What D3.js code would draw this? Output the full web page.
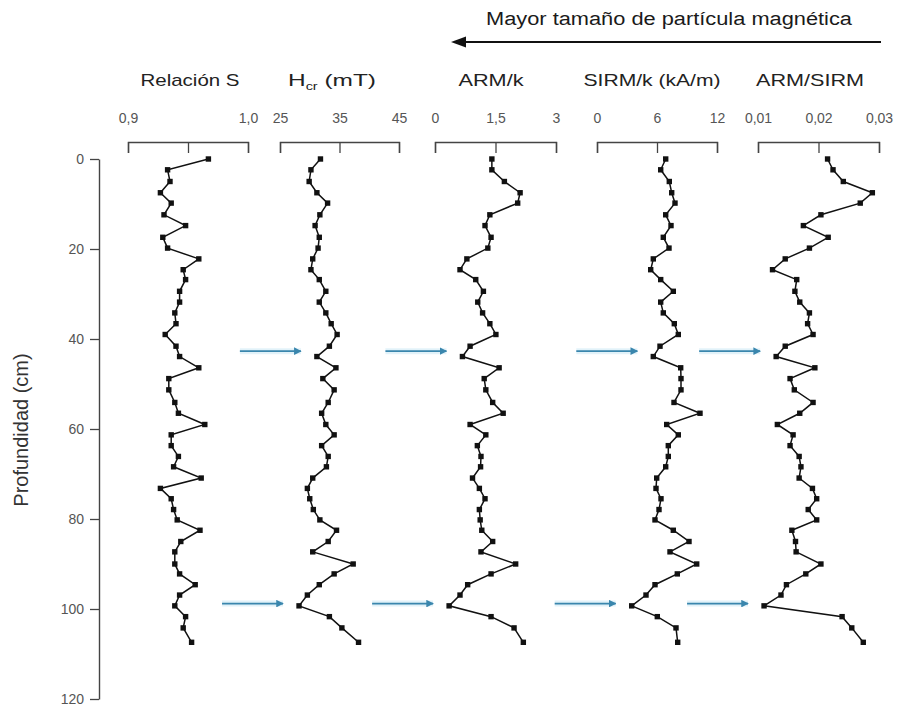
<!DOCTYPE html>
<html><head><meta charset="utf-8">
<script src="https://cdn.jsdelivr.net/npm/d3@7"></script>
<style>body{margin:0;background:#fff;} svg{display:block;}</style>
</head><body><svg id="c" width="901" height="706"></svg>
<script>
// ---- data ----
const depths = [0,2.4,5.0,7.5,9.8,12.4,14.8,17.4,19.8,22.2,24.6,26.8,29.4,31.8,34.2,36.6,39.0,41.6,43.9,46.4,48.8,51.3,54.1,56.5,59.0,61.3,63.7,66.1,68.4,70.9,73.2,75.5,77.9,80.2,82.5,85.0,87.3,90.0,92.2,94.6,96.9,99.3,101.7,104.2,107.4];
const relacionS = [0.967,0.933,0.935,0.927,0.936,0.930,0.948,0.929,0.933,0.959,0.946,0.948,0.943,0.943,0.939,0.940,0.931,0.940,0.943,0.959,0.934,0.934,0.939,0.942,0.964,0.936,0.936,0.942,0.938,0.961,0.927,0.936,0.938,0.941,0.960,0.944,0.939,0.939,0.943,0.956,0.943,0.939,0.948,0.946,0.953];
const hcr = [31.8,30.2,29.9,31.2,33.0,31.7,30.9,31.6,31.4,30.5,30.2,31.6,32.7,31.6,32.7,33.6,34.6,33.3,31.2,34.4,32.2,34.1,33.1,32.0,32.7,34.1,32.0,33.1,32.8,30.5,29.6,30.0,30.6,31.7,34.5,33.1,30.5,37.3,34.1,31.6,29.6,28.2,33.3,35.4,38.2];
const armK = [1.41,1.41,1.72,2.11,2.05,1.36,1.24,1.39,1.31,0.79,0.62,1.01,1.20,1.06,1.18,1.36,1.51,0.87,0.68,1.59,1.22,1.26,1.43,1.69,0.87,1.26,1.05,1.14,1.13,0.93,1.10,1.24,1.10,1.12,1.16,1.43,1.14,2.00,1.39,0.81,0.62,0.35,1.39,1.96,2.19];
const sirmK = [6.87,6.37,7.23,7.47,7.80,6.87,7.40,6.63,7.20,5.63,5.37,6.37,7.63,6.37,6.63,7.73,8.13,6.30,5.63,8.37,8.40,8.40,7.70,10.30,6.97,8.13,7.13,7.13,6.87,5.97,5.90,6.40,6.20,5.80,7.63,9.20,7.30,9.97,8.03,5.80,4.90,3.47,6.03,7.90,8.07];
const armSirm = [0.0215,0.0224,0.0241,0.0289,0.0269,0.0204,0.0175,0.0216,0.0185,0.0145,0.0124,0.0164,0.0161,0.0169,0.0185,0.0182,0.0191,0.0145,0.0130,0.0194,0.0153,0.0160,0.0191,0.0169,0.0132,0.0158,0.0153,0.0168,0.0171,0.0168,0.0190,0.0197,0.0183,0.0197,0.0156,0.0162,0.0163,0.0204,0.0179,0.0147,0.0138,0.0110,0.0239,0.0255,0.0274];

const panelSeries = [relacionS, hcr, armK, sirmK, armSirm];
const panelTitles = [["Relación S"], ["H", "cr", " (mT)"], ["ARM/k"], ["SIRM/k (kA/m)"], ["ARM/SIRM"]];
const panelDomains = [[0.9,1.0],[25,45],[0,3],[0,12],[0.01,0.03]];
const panelTicks = [[0.9,0.95,1.0],[25,35,45],[0,1.5,3],[0,6,12],[0.01,0.02,0.03]];
const panelTickLabels = [["0,9","","1,0"],["25","35","45"],["0","1,5","3"],["0","6","12"],["0,01","0,02","0,03"]];
const depthTicks = [0,20,40,60,80,100,120];
const depthDomain = [0,120];
const topTitle = "Mayor tamaño de partícula magnética";
const yTitle = "Profundidad (cm)";
const arrowMarks = [{depth:42.7, index:18},{depth:98.8, index:41}];

// ---- layout ----
const svg = d3.select("#c");
const FONT = "'Liberation Sans', Arial, Helvetica, sans-serif";
const panelRanges = [[128,248],[280,399],[435,556],[597,717],[758,879]];
const titleCenters = [190,332,491,652,810];
const titleWidths = [99,88,65,137,108];
const axisY = 142;
const y = d3.scaleLinear().domain(depthDomain).range([159,699]);

const defs = svg.append("defs");
defs.append("marker").attr("id","bluehead").attr("viewBox","0 0 10 10")
  .attr("refX",9).attr("refY",5).attr("markerWidth",4.2).attr("markerHeight",4.2)
  .attr("markerUnits","strokeWidth").attr("orient","auto")
  .append("path").attr("d","M0,0 L10,5 L0,10 Z").attr("fill","#3a86ad");

// top title and arrow
svg.append("text").attr("x",669).attr("y",25).attr("text-anchor","middle")
  .attr("font-family",FONT).attr("font-size",18).attr("fill","#1a1a1a")
  .attr("textLength",366).attr("lengthAdjust","spacingAndGlyphs").text(topTitle);
svg.append("line").attr("x1",462).attr("x2",881).attr("y1",42).attr("y2",42)
  .attr("stroke","#111").attr("stroke-width",2);
svg.append("path").attr("d","M451,42 L466,36.5 L466,47.5 Z").attr("fill","#111");

// y axis
const yAxis = d3.axisLeft(y).tickValues(depthTicks).tickSize(9).tickSizeOuter(0).tickPadding(6);
const gy = svg.append("g").attr("transform","translate(99,0)").call(yAxis);
gy.select(".domain").attr("stroke","#444").attr("stroke-width",1.4);
gy.selectAll(".tick line").attr("stroke","#444").attr("stroke-width",1.3);
gy.selectAll(".tick text").attr("font-family",FONT).attr("font-size",14).attr("fill","#555");

svg.append("text").attr("transform","translate(28,430) rotate(-90)")
  .attr("text-anchor","middle").attr("font-family",FONT).attr("font-size",20)
  .attr("fill","#333").text(yTitle);

// panels
panelSeries.forEach((vals, p) => {
  const x = d3.scaleLinear().domain(panelDomains[p]).range(panelRanges[p]);
  const ax = d3.axisTop(x).tickValues(panelTicks[p])
    .tickFormat((d,i) => panelTickLabels[p][i])
    .tickSizeInner(-11).tickSizeOuter(-11).tickPadding(19);
  const g = svg.append("g").attr("transform",`translate(0,${axisY})`).call(ax);
  g.select(".domain").attr("stroke","#444").attr("stroke-width",1.4);
  g.selectAll(".tick line").attr("stroke","#444").attr("stroke-width",1.3);
  g.selectAll(".tick text").attr("font-family",FONT).attr("font-size",14).attr("fill","#555");

  // title
  const t = svg.append("text").attr("x",titleCenters[p]).attr("y",86)
    .attr("text-anchor","middle").attr("font-family",FONT).attr("font-size",17)
    .attr("fill","#222").attr("textLength",titleWidths[p]).attr("lengthAdjust","spacingAndGlyphs");
  const parts = panelTitles[p];
  if (parts.length === 1) t.text(parts[0]);
  else {
    t.append("tspan").text(parts[0]);
    t.append("tspan").attr("font-size",10).attr("dy",4).text(parts[1]);
    t.append("tspan").attr("dy",-4).text(parts[2]);
  }

  const pts = vals.map((v,i) => [x(v), y(depths[i])]);
  svg.append("path").datum(pts).attr("d", d3.line())
    .attr("fill","none").attr("stroke","#111").attr("stroke-width",1.5);
  svg.append("g").selectAll("rect").data(pts).join("rect")
    .attr("x",d=>d[0]-2.7).attr("y",d=>d[1]-2.7).attr("width",5.4).attr("height",5.4)
    .attr("fill","#111");

  // blue arrows
  if (p > 0) {
    arrowMarks.forEach(a => {
      const tip = x(vals[a.index]) - 16;
      const yy = y(a.depth);
      svg.append("line").attr("x1",tip-61).attr("x2",tip).attr("y1",yy).attr("y2",yy)
        .attr("stroke","#cfe9f5").attr("stroke-width",6).attr("stroke-opacity",0.6);
      svg.append("line").attr("x1",tip-61).attr("x2",tip).attr("y1",yy).attr("y2",yy)
        .attr("stroke","#3a86ad").attr("stroke-width",1.8).attr("marker-end","url(#bluehead)");
    });
  }
});
</script></body></html>
